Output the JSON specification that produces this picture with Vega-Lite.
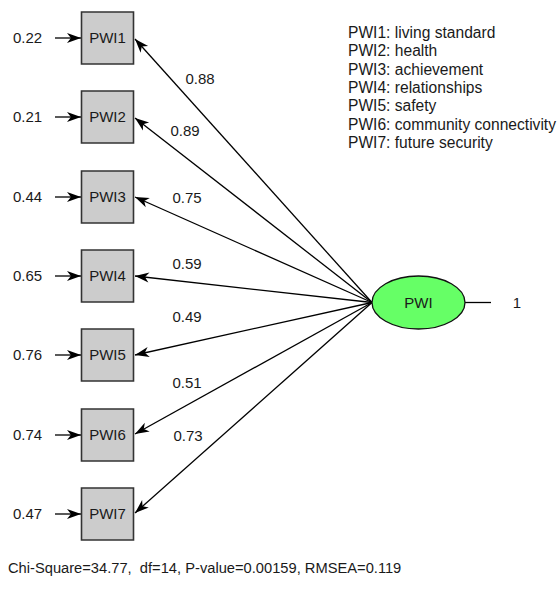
{
  "$schema": "https://vega.github.io/schema/vega-lite/v6.json",
  "width": 560,
  "height": 589,
  "padding": 0,
  "autosize": {"type": "fit", "contains": "padding"},
  "config": {
    "view": {"stroke": null},
    "text": {"font": "Liberation Sans", "fontSize": 15, "fill": "#1a1a1a"}
  },
  "encoding": {
    "x": {"type": "quantitative", "scale": {"domain": [0, 560], "nice": false, "zero": false}, "axis": null},
    "y": {"type": "quantitative", "scale": {"domain": [0, 589], "nice": false, "zero": false, "reverse": true}, "axis": null}
  },
  "datasets": {
    "items": [
      {"name": "PWI1", "legend": "PWI1: living standard", "bx": 107.5, "cy": 38, "loading": "0.88", "error": "0.22", "ex": 27.5, "lx": 200, "ly": 79, "tx": 348, "ty": 33},
      {"name": "PWI2", "legend": "PWI2: health", "bx": 107.5, "cy": 117, "loading": "0.89", "error": "0.21", "ex": 27.5, "lx": 185, "ly": 131, "tx": 348, "ty": 51.3},
      {"name": "PWI3", "legend": "PWI3: achievement", "bx": 107.5, "cy": 197, "loading": "0.75", "error": "0.44", "ex": 27.5, "lx": 187, "ly": 198, "tx": 348, "ty": 69.6},
      {"name": "PWI4", "legend": "PWI4: relationships", "bx": 107.5, "cy": 276, "loading": "0.59", "error": "0.65", "ex": 27.5, "lx": 187, "ly": 264, "tx": 348, "ty": 87.9},
      {"name": "PWI5", "legend": "PWI5: safety", "bx": 107.5, "cy": 355, "loading": "0.49", "error": "0.76", "ex": 27.5, "lx": 187, "ly": 317, "tx": 348, "ty": 106.2},
      {"name": "PWI6", "legend": "PWI6: community connectivity", "bx": 107.5, "cy": 435, "loading": "0.51", "error": "0.74", "ex": 27.5, "lx": 187, "ly": 383, "tx": 348, "ty": 124.5},
      {"name": "PWI7", "legend": "PWI7: future security", "bx": 107.5, "cy": 514, "loading": "0.73", "error": "0.47", "ex": 27.5, "lx": 188, "ly": 436, "tx": 348, "ty": 142.8}
    ],
    "edges": [
      {"kind": "loading", "to": "PWI1", "x1": 372, "y1": 302.5, "x2": 135, "y2": 39},
      {"kind": "loading", "to": "PWI2", "x1": 372, "y1": 302.5, "x2": 135, "y2": 118},
      {"kind": "loading", "to": "PWI3", "x1": 372, "y1": 302.5, "x2": 135, "y2": 197},
      {"kind": "loading", "to": "PWI4", "x1": 372, "y1": 302.5, "x2": 135, "y2": 276},
      {"kind": "loading", "to": "PWI5", "x1": 372, "y1": 302.5, "x2": 135, "y2": 355},
      {"kind": "loading", "to": "PWI6", "x1": 372, "y1": 302.5, "x2": 135, "y2": 434},
      {"kind": "loading", "to": "PWI7", "x1": 372, "y1": 302.5, "x2": 135, "y2": 513},
      {"kind": "error", "to": "PWI1", "x1": 55, "y1": 38, "x2": 81, "y2": 38},
      {"kind": "error", "to": "PWI2", "x1": 55, "y1": 117, "x2": 81, "y2": 117},
      {"kind": "error", "to": "PWI3", "x1": 55, "y1": 197, "x2": 81, "y2": 197},
      {"kind": "error", "to": "PWI4", "x1": 55, "y1": 276, "x2": 81, "y2": 276},
      {"kind": "error", "to": "PWI5", "x1": 55, "y1": 355, "x2": 81, "y2": 355},
      {"kind": "error", "to": "PWI6", "x1": 55, "y1": 435, "x2": 81, "y2": 435},
      {"kind": "error", "to": "PWI7", "x1": 55, "y1": 514, "x2": 81, "y2": 514},
      {"kind": "variance", "to": "PWI", "x1": 465, "y1": 302.5, "x2": 491, "y2": 302.5}
    ],
    "latent": [{"name": "PWI", "cx": 418.5, "cy": 302.5, "variance": "1", "vx": 517}],
    "fit": [{"text": "Chi-Square=34.77,\u00a0 df=14, P-value=0.00159, RMSEA=0.119", "x": 8, "y": 569}]
  },
  "layer": [
    {
      "data": {"name": "edges"},
      "mark": {"type": "rule", "stroke": "#000", "strokeWidth": 1.3},
      "encoding": {
        "x": {"field": "x1", "type": "quantitative"},
        "y": {"field": "y1", "type": "quantitative"},
        "x2": {"field": "x2"},
        "y2": {"field": "y2"}
      }
    },
    {
      "data": {"name": "items"},
      "mark": {"type": "point", "shape": "square", "filled": true, "fill": "#cccccc", "stroke": "#333333", "strokeWidth": 1.6, "opacity": 1, "size": 2704},
      "encoding": {
        "x": {"field": "bx", "type": "quantitative"},
        "y": {"field": "cy", "type": "quantitative"}
      }
    },
    {
      "data": {"name": "latent"},
      "mark": {"type": "point", "shape": "M -1 0 C -1 -0.315 -0.552 -0.57 0 -0.57 C 0.552 -0.57 1 -0.315 1 0 C 1 0.315 0.552 0.57 0 0.57 C -0.552 0.57 -1 0.315 -1 0 Z", "filled": true, "fill": "#66ff66", "stroke": "#111111", "strokeWidth": 1.3, "opacity": 1, "size": 8649},
      "encoding": {
        "x": {"field": "cx", "type": "quantitative"},
        "y": {"field": "cy", "type": "quantitative"}
      }
    },
    {
      "data": {"name": "edges"},
      "transform": [
        {"filter": "datum.kind !== 'variance'"},
        {"calculate": "atan2(datum.y2 - datum.y1, datum.x2 - datum.x1) * 180 / PI", "as": "ang"}
      ],
      "mark": {"type": "point", "shape": "M 0 0 L -1 -0.36 L -0.72 0 L -1 0.36 Z", "filled": true, "fill": "#000000", "strokeWidth": 0, "opacity": 1, "size": 784},
      "encoding": {
        "x": {"field": "x2", "type": "quantitative"},
        "y": {"field": "y2", "type": "quantitative"},
        "angle": {"field": "ang", "type": "quantitative", "scale": null}
      }
    },
    {
      "data": {"name": "items"},
      "mark": {"type": "text", "align": "center", "baseline": "middle"},
      "encoding": {
        "x": {"field": "bx", "type": "quantitative"},
        "y": {"field": "cy", "type": "quantitative"},
        "text": {"field": "name"}
      }
    },
    {
      "data": {"name": "items"},
      "mark": {"type": "text", "align": "center", "baseline": "middle"},
      "encoding": {
        "x": {"field": "ex", "type": "quantitative"},
        "y": {"field": "cy", "type": "quantitative"},
        "text": {"field": "error"}
      }
    },
    {
      "data": {"name": "items"},
      "mark": {"type": "text", "align": "center", "baseline": "middle"},
      "encoding": {
        "x": {"field": "lx", "type": "quantitative"},
        "y": {"field": "ly", "type": "quantitative"},
        "text": {"field": "loading"}
      }
    },
    {
      "data": {"name": "items"},
      "mark": {"type": "text", "align": "left", "baseline": "middle", "fontSize": 15.6},
      "encoding": {
        "x": {"field": "tx", "type": "quantitative"},
        "y": {"field": "ty", "type": "quantitative"},
        "text": {"field": "legend"}
      }
    },
    {
      "data": {"name": "latent"},
      "mark": {"type": "text", "align": "center", "baseline": "middle"},
      "encoding": {
        "x": {"field": "cx", "type": "quantitative"},
        "y": {"field": "cy", "type": "quantitative"},
        "text": {"field": "name"}
      }
    },
    {
      "data": {"name": "latent"},
      "mark": {"type": "text", "align": "center", "baseline": "middle"},
      "encoding": {
        "x": {"field": "vx", "type": "quantitative"},
        "y": {"field": "cy", "type": "quantitative"},
        "text": {"field": "variance"}
      }
    },
    {
      "data": {"name": "fit"},
      "mark": {"type": "text", "align": "left", "baseline": "middle", "fontSize": 14.7},
      "encoding": {
        "x": {"field": "x", "type": "quantitative"},
        "y": {"field": "y", "type": "quantitative"},
        "text": {"field": "text"}
      }
    }
  ]
}
